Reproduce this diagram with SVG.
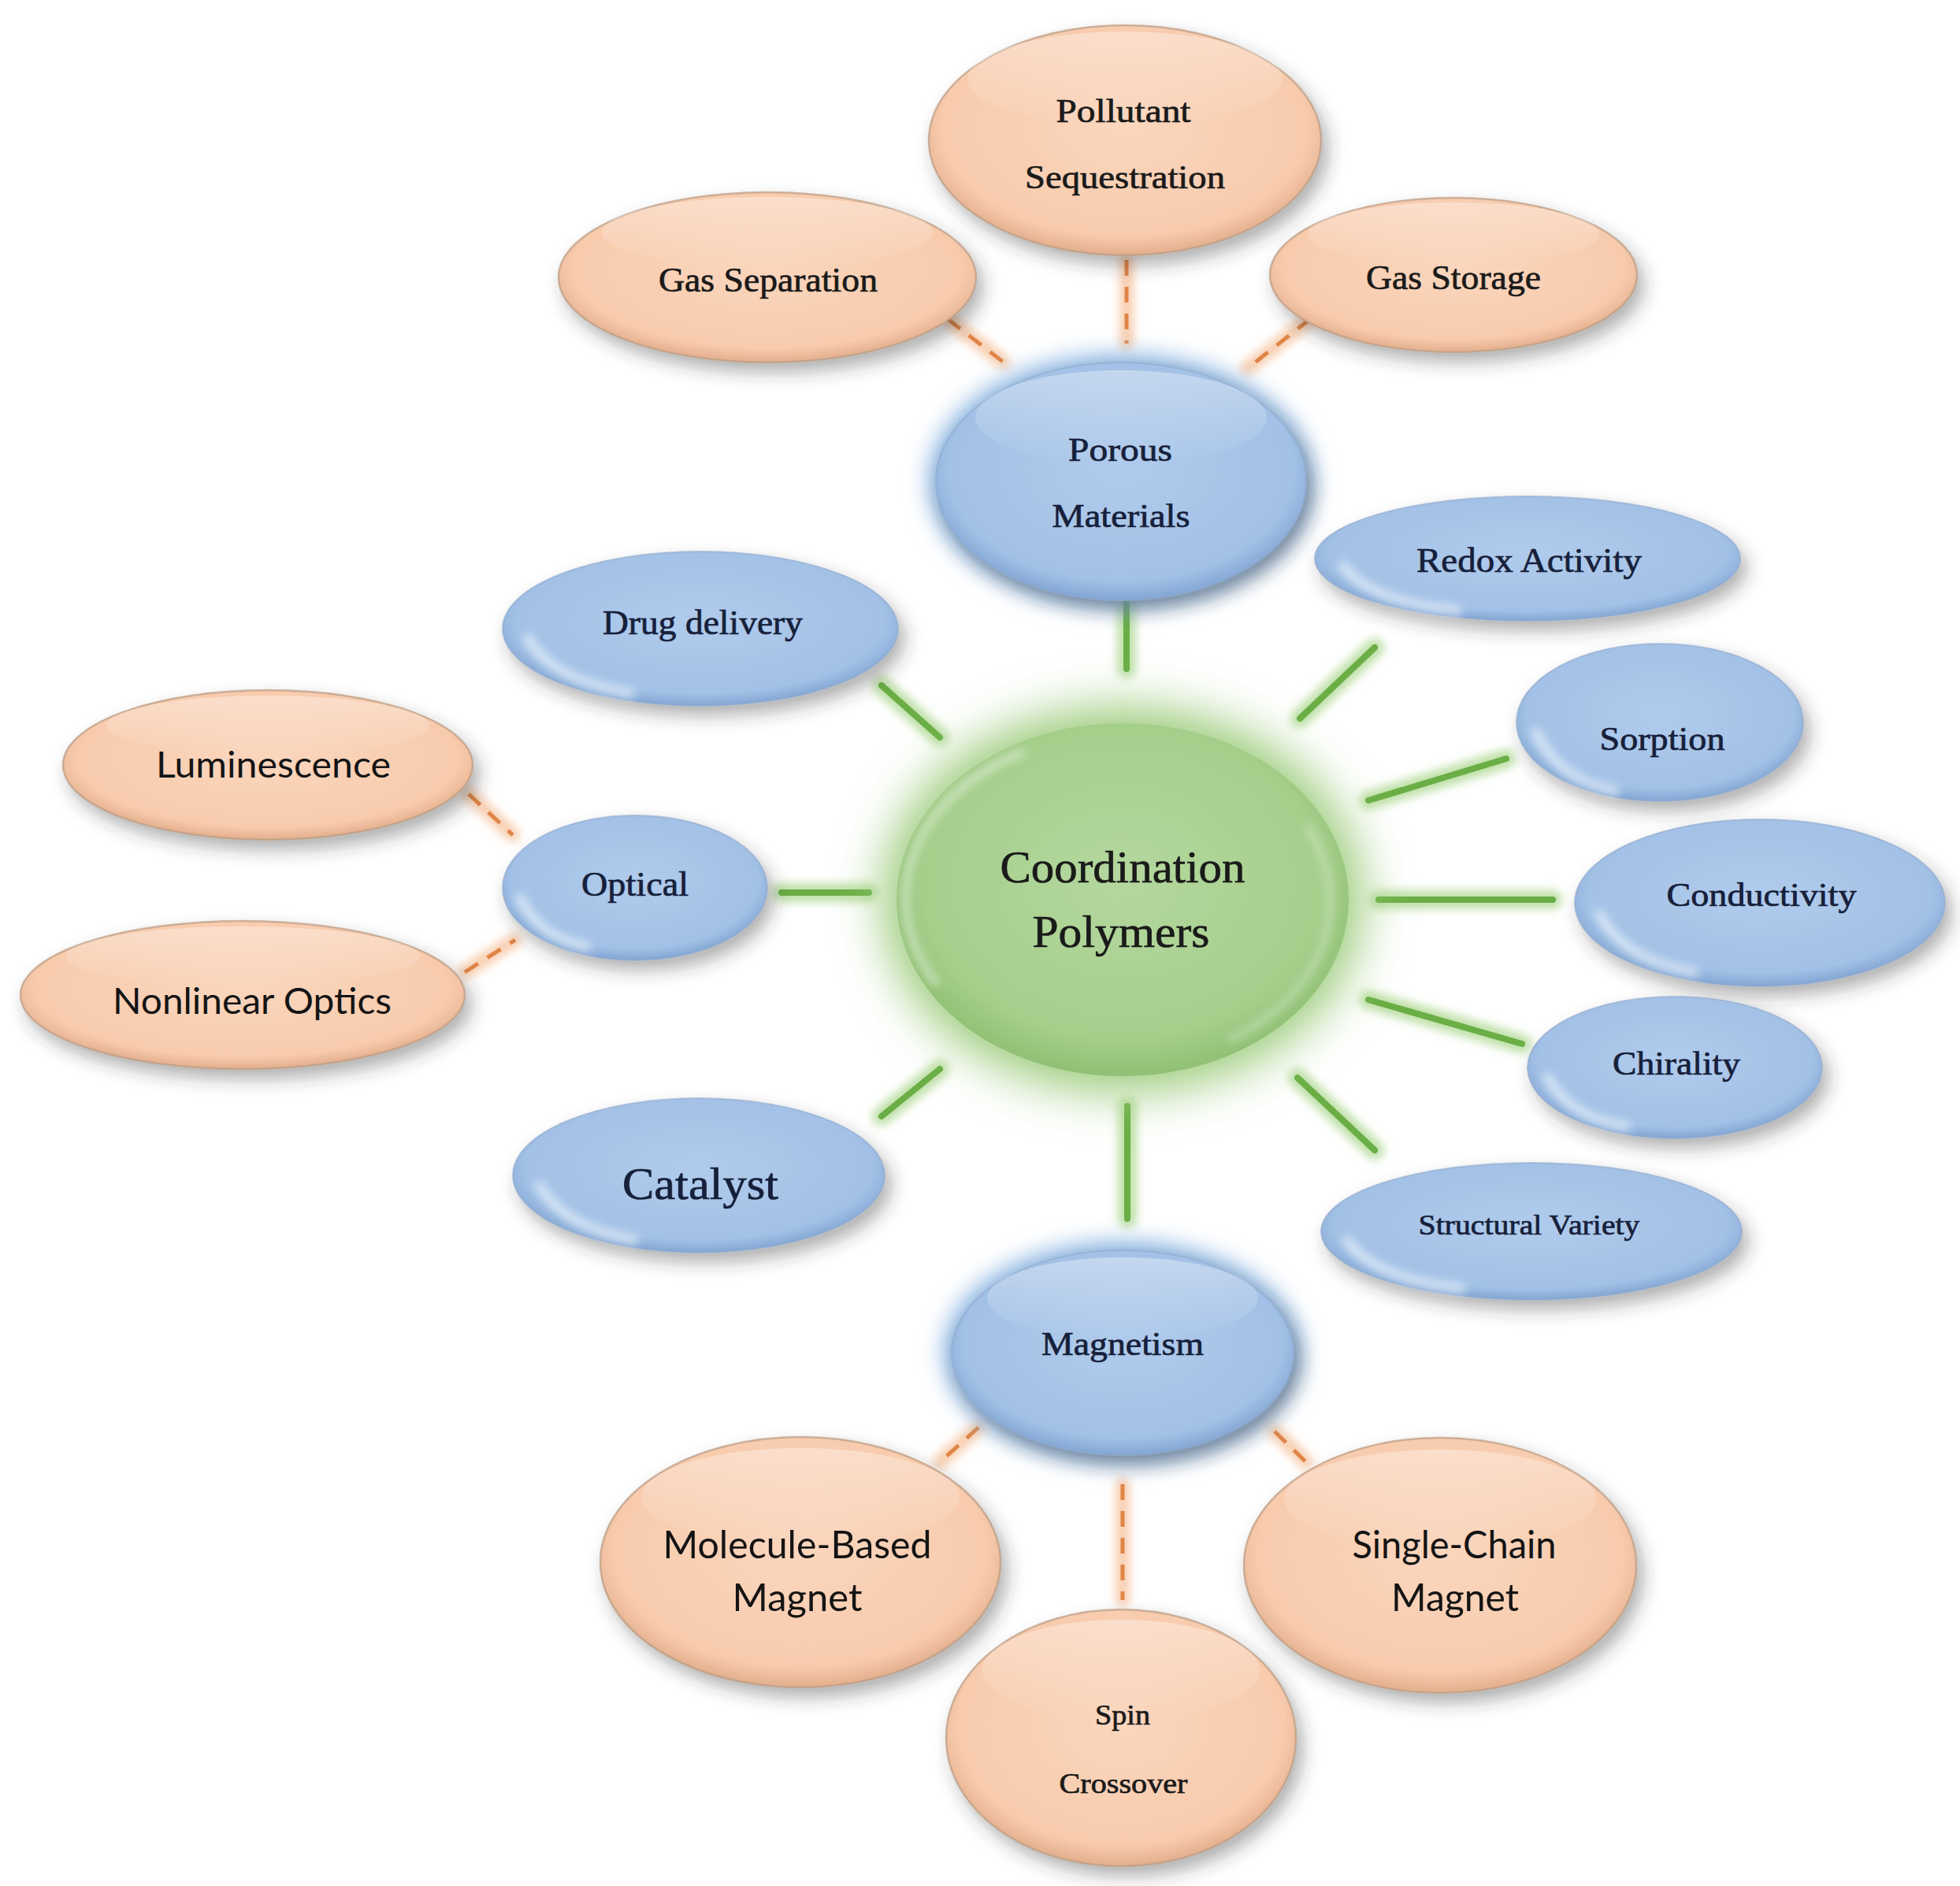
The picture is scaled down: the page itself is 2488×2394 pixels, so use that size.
<svg xmlns="http://www.w3.org/2000/svg" width="2488" height="2394" viewBox="0 0 2488 2394">
<defs>
<radialGradient id="gPeach" cx="50%" cy="45%" r="55%">
<stop offset="0" stop-color="#FAD6BD"/>
<stop offset="0.85" stop-color="#F8CBAD"/>
<stop offset="1" stop-color="#E2AE8C"/>
</radialGradient>
<radialGradient id="gBlue" cx="50%" cy="45%" r="55%">
<stop offset="0" stop-color="#B0CBEC"/>
<stop offset="0.85" stop-color="#A3C1E6"/>
<stop offset="1" stop-color="#82A6D3"/>
</radialGradient>
<radialGradient id="gGreen" cx="50%" cy="45%" r="55%">
<stop offset="0" stop-color="#B4D79E"/>
<stop offset="0.8" stop-color="#A6CF8C"/>
<stop offset="1" stop-color="#90C074"/>
</radialGradient>
<linearGradient id="gGloss" x1="0" y1="0" x2="0" y2="1">
<stop offset="0" stop-color="#fff" stop-opacity="0.35"/>
<stop offset="1" stop-color="#fff" stop-opacity="0"/>
</linearGradient>
<filter id="shadow" x="-20%" y="-20%" width="150%" height="170%">
<feDropShadow dx="8" dy="12" stdDeviation="11" flood-color="#333" flood-opacity="0.38"/>
</filter>
<filter id="blur" x="-50%" y="-50%" width="200%" height="200%">
<feGaussianBlur stdDeviation="14"/>
</filter>
<filter id="blurBig" x="-50%" y="-50%" width="200%" height="200%">
<feGaussianBlur stdDeviation="30"/>
</filter>
<filter id="blurS" x="-50%" y="-50%" width="200%" height="200%">
<feGaussianBlur stdDeviation="6"/>
</filter>
<style>
.peach{fill:url(#gPeach);stroke:#B99A82;stroke-opacity:0.7;stroke-width:2.5;filter:url(#shadow)}
.blue{fill:url(#gBlue);stroke:#8FA9CC;stroke-opacity:0.6;stroke-width:2;filter:url(#shadow)}
.gloss{fill:url(#gGloss)}
.hl{fill:none;stroke:#E8F1FB;stroke-opacity:0.75;stroke-width:12;stroke-linecap:round;filter:url(#blurS)}
.t{font-family:"Liberation Serif","Times New Roman",serif;fill:#1A1A1A;stroke:#1A1A1A;stroke-width:0.7;text-anchor:middle}
.tb{fill:#16203A;stroke:#16203A}
.s{font-family:"Lato","Liberation Sans",sans-serif;fill:#141414;text-anchor:middle}
.gl{stroke:#6AAE45;stroke-width:8;stroke-linecap:round;fill:none}
.gg{stroke:#BFE0A8;stroke-width:24;stroke-linecap:round;fill:none}
.ol{stroke:#E08548;stroke-width:5;stroke-dasharray:20 14;fill:none}
.og{stroke:#F8CFB0;stroke-width:18;stroke-linecap:round;fill:none}
</style>
</defs>
<rect width="2488" height="2394" fill="#fff"/>

<g id="connectors">
<g filter="url(#blurS)">
<line class="gg" x1="1430" y1="750" x2="1430" y2="849"/>
<line class="gg" x1="1119" y1="870" x2="1193" y2="936"/>
<line class="gg" x1="1745" y1="822" x2="1650" y2="912"/>
<line class="gg" x1="1912" y1="963" x2="1737" y2="1016"/>
<line class="gg" x1="992" y1="1133" x2="1103" y2="1133"/>
<line class="gg" x1="1750" y1="1142" x2="1971" y2="1142"/>
<line class="gg" x1="1119" y1="1417" x2="1193" y2="1357"/>
<line class="gg" x1="1737" y1="1269" x2="1932" y2="1325"/>
<line class="gg" x1="1647" y1="1368" x2="1745" y2="1460"/>
<line class="gg" x1="1431" y1="1404" x2="1431" y2="1547"/>
<line class="og" x1="1203" y1="405" x2="1274" y2="460"/>
<line class="og" x1="1430" y1="330" x2="1430" y2="436"/>
<line class="og" x1="1663" y1="405" x2="1583" y2="468"/>
<line class="og" x1="595" y1="1008" x2="651" y2="1060"/>
<line class="og" x1="590" y1="1234" x2="654" y2="1193"/>
<line class="og" x1="1242" y1="1812" x2="1193" y2="1856"/>
<line class="og" x1="1425" y1="1884" x2="1425" y2="2031"/>
<line class="og" x1="1618" y1="1817" x2="1658" y2="1856"/>
</g>
<line class="gl" x1="1430" y1="750" x2="1430" y2="849"/>
<line class="gl" x1="1119" y1="870" x2="1193" y2="936"/>
<line class="gl" x1="1745" y1="822" x2="1650" y2="912"/>
<line class="gl" x1="1912" y1="963" x2="1737" y2="1016"/>
<line class="gl" x1="992" y1="1133" x2="1103" y2="1133"/>
<line class="gl" x1="1750" y1="1142" x2="1971" y2="1142"/>
<line class="gl" x1="1119" y1="1417" x2="1193" y2="1357"/>
<line class="gl" x1="1737" y1="1269" x2="1932" y2="1325"/>
<line class="gl" x1="1647" y1="1368" x2="1745" y2="1460"/>
<line class="gl" x1="1431" y1="1404" x2="1431" y2="1547"/>
<line class="ol" x1="1203" y1="405" x2="1274" y2="460"/>
<line class="ol" x1="1430" y1="330" x2="1430" y2="436"/>
<line class="ol" x1="1663" y1="405" x2="1583" y2="468"/>
<line class="ol" x1="595" y1="1008" x2="651" y2="1060"/>
<line class="ol" x1="590" y1="1234" x2="654" y2="1193"/>
<line class="ol" x1="1242" y1="1812" x2="1193" y2="1856"/>
<line class="ol" x1="1425" y1="1884" x2="1425" y2="2031"/>
<line class="ol" x1="1618" y1="1817" x2="1658" y2="1856"/>
</g>

<g id="center">
<ellipse cx="1425" cy="1142" rx="305" ry="245" fill="#9CCB7C" filter="url(#blurBig)"/>
<ellipse cx="1425" cy="1142" rx="287" ry="224" fill="url(#gGreen)"/>
<path d="M1190,1250 A262,205 0 0 1 1300,955" fill="none" stroke="#fff" stroke-opacity="0.6" stroke-width="7" filter="url(#blurS)"/>
<path d="M1660,1050 A262,205 0 0 1 1560,1320" fill="none" stroke="#fff" stroke-opacity="0.45" stroke-width="6" filter="url(#blurS)"/>
<text class="t" x="1425" y="1120" font-size="58" textLength="311" lengthAdjust="spacingAndGlyphs">Coordination</text>
<text class="t" x="1423" y="1202" font-size="58" textLength="225" lengthAdjust="spacingAndGlyphs">Polymers</text>
</g>

<g id="pollutant">
<ellipse class="peach" cx="1428" cy="178" rx="249" ry="146"/>
<ellipse class="gloss" cx="1428" cy="100" rx="200" ry="60"/>
<text class="t" x="1426" y="155" font-size="42" textLength="171" lengthAdjust="spacingAndGlyphs">Pollutant</text>
<text class="t" x="1428" y="239" font-size="42" textLength="254" lengthAdjust="spacingAndGlyphs">Sequestration</text>
</g>

<g id="gas-separation">
<ellipse class="peach" cx="974" cy="352" rx="265" ry="108"/>
<ellipse class="gloss" cx="974" cy="295" rx="210" ry="45"/>
<text class="t" x="975" y="370" font-size="44" textLength="278" lengthAdjust="spacingAndGlyphs">Gas Separation</text>
</g>

<g id="gas-storage">
<ellipse class="peach" cx="1845" cy="349" rx="233" ry="98"/>
<ellipse class="gloss" cx="1845" cy="297" rx="185" ry="40"/>
<text class="t" x="1845" y="367" font-size="44" textLength="222" lengthAdjust="spacingAndGlyphs">Gas Storage</text>
</g>

<g id="porous">
<ellipse cx="1423" cy="611" rx="245" ry="162" fill="#8FB8E4" filter="url(#blur)"/>
<ellipse class="blue" cx="1423" cy="611" rx="235" ry="151"/>
<ellipse class="gloss" cx="1423" cy="530" rx="185" ry="60"/>
<text class="t tb" x="1422" y="585" font-size="42" textLength="132" lengthAdjust="spacingAndGlyphs">Porous</text>
<text class="t tb" x="1423" y="669" font-size="42" textLength="175" lengthAdjust="spacingAndGlyphs">Materials</text>
</g>

<g id="redox">
<ellipse class="blue" cx="1939" cy="709" rx="270" ry="79"/>
<path class="hl" d="M1705,718 Q1740,765 1850,775"/>
<text class="t tb" x="1941" y="726" font-size="44" textLength="286" lengthAdjust="spacingAndGlyphs">Redox Activity</text>
</g>

<g id="drug-delivery">
<ellipse class="blue" cx="889" cy="798" rx="251" ry="98"/>
<path class="hl" d="M670,810 Q702,865 800,880"/>
<text class="t tb" x="892" y="805" font-size="44" textLength="254" lengthAdjust="spacingAndGlyphs">Drug delivery</text>
</g>

<g id="sorption">
<ellipse class="blue" cx="2107" cy="917" rx="182" ry="100"/>
<path class="hl" d="M1950,930 Q1978,990 2050,1004"/>
<text class="t tb" x="2110" y="952" font-size="42" textLength="159" lengthAdjust="spacingAndGlyphs">Sorption</text>
</g>

<g id="luminescence">
<ellipse class="peach" cx="340" cy="971" rx="260" ry="95"/>
<ellipse class="gloss" cx="340" cy="921" rx="205" ry="38"/>
<text class="s" x="347" y="987" font-size="46" textLength="298" lengthAdjust="spacingAndGlyphs">Luminescence</text>
</g>

<g id="optical">
<ellipse class="blue" cx="806" cy="1127" rx="168" ry="92"/>
<path class="hl" d="M660,1140 Q684,1190 745,1202"/>
<text class="t tb" x="806" y="1137" font-size="44" textLength="136" lengthAdjust="spacingAndGlyphs">Optical</text>
</g>

<g id="conductivity">
<ellipse class="blue" cx="2234" cy="1146" rx="235" ry="106"/>
<path class="hl" d="M2030,1160 Q2062,1220 2150,1234"/>
<text class="t tb" x="2236" y="1150" font-size="42" textLength="241" lengthAdjust="spacingAndGlyphs">Conductivity</text>
</g>

<g id="nonlinear-optics">
<ellipse class="peach" cx="308" cy="1263" rx="282" ry="94"/>
<ellipse class="gloss" cx="308" cy="1214" rx="225" ry="38"/>
<text class="s" x="320" y="1287" font-size="46" textLength="354" lengthAdjust="spacingAndGlyphs">Nonlinear Optics</text>
</g>

<g id="chirality">
<ellipse class="blue" cx="2126" cy="1355" rx="187" ry="90"/>
<path class="hl" d="M1965,1368 Q1993,1420 2065,1430"/>
<text class="t tb" x="2128" y="1364" font-size="42" textLength="162" lengthAdjust="spacingAndGlyphs">Chirality</text>
</g>

<g id="catalyst">
<ellipse class="blue" cx="887" cy="1492" rx="236" ry="98"/>
<path class="hl" d="M685,1505 Q718,1560 805,1574"/>
<text class="t tb" x="889" y="1522" font-size="56" textLength="198" lengthAdjust="spacingAndGlyphs">Catalyst</text>
</g>

<g id="structural-variety">
<ellipse class="blue" cx="1944" cy="1563" rx="267" ry="87"/>
<path class="hl" d="M1710,1575 Q1748,1625 1855,1636"/>
<text class="t tb" x="1941" y="1567" font-size="36" textLength="281" lengthAdjust="spacingAndGlyphs">Structural Variety</text>
</g>

<g id="magnetism">
<ellipse cx="1425" cy="1717" rx="228" ry="142" fill="#8FB8E4" filter="url(#blur)"/>
<ellipse class="blue" cx="1425" cy="1717" rx="217" ry="130"/>
<ellipse class="gloss" cx="1425" cy="1648" rx="172" ry="52"/>
<text class="t tb" x="1425" y="1720" font-size="42" textLength="206" lengthAdjust="spacingAndGlyphs">Magnetism</text>
</g>

<g id="molecule-based-magnet">
<ellipse class="peach" cx="1016" cy="1983" rx="254" ry="159"/>
<ellipse class="gloss" cx="1016" cy="1900" rx="202" ry="62"/>
<text class="s" x="1012" y="1978" font-size="48" textLength="341" lengthAdjust="spacingAndGlyphs">Molecule-Based</text>
<text class="s" x="1012" y="2045" font-size="48" textLength="165" lengthAdjust="spacingAndGlyphs">Magnet</text>
</g>

<g id="single-chain-magnet">
<ellipse class="peach" cx="1828" cy="1987" rx="249" ry="162"/>
<ellipse class="gloss" cx="1828" cy="1903" rx="198" ry="63"/>
<text class="s" x="1846" y="1978" font-size="48" textLength="259" lengthAdjust="spacingAndGlyphs">Single-Chain</text>
<text class="s" x="1847" y="2045" font-size="48" textLength="162" lengthAdjust="spacingAndGlyphs">Magnet</text>
</g>

<g id="spin-crossover">
<ellipse class="peach" cx="1423" cy="2206" rx="222" ry="163"/>
<ellipse class="gloss" cx="1423" cy="2120" rx="176" ry="64"/>
<text class="t" x="1425" y="2189" font-size="36" textLength="70" lengthAdjust="spacingAndGlyphs">Spin</text>
<text class="t" x="1426" y="2276" font-size="36" textLength="163" lengthAdjust="spacingAndGlyphs">Crossover</text>
</g>
</svg>
